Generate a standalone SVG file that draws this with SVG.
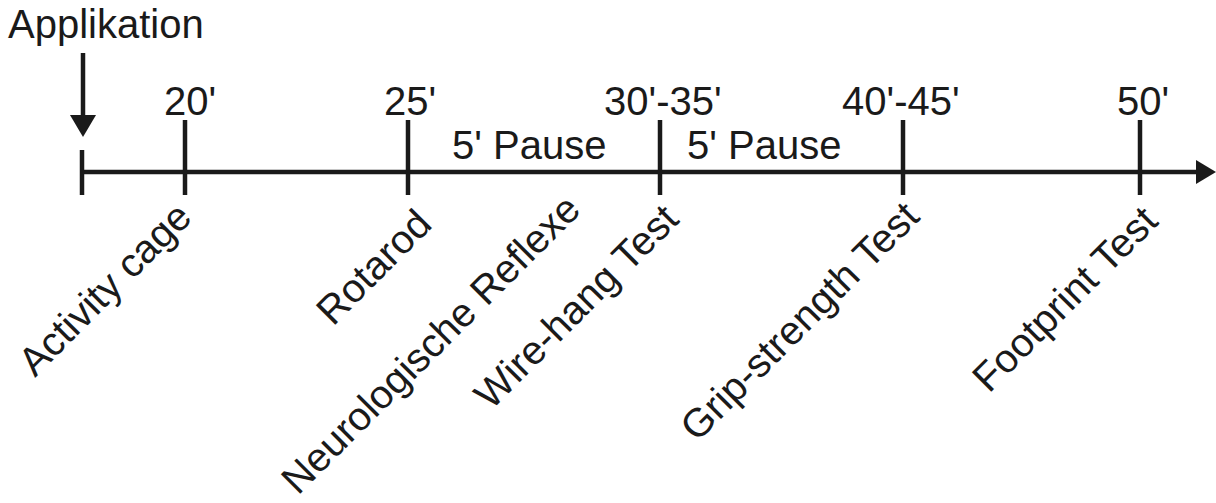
<svg xmlns="http://www.w3.org/2000/svg" width="1216" height="503" viewBox="0 0 1216 503">
  <style>
    text { font-family: "Liberation Sans", Arial, sans-serif; font-size: 40px; fill: #1a1a1a; }
    .ax { stroke: #1a1a1a; stroke-width: 4.5; fill: none; }
    .head { fill: #1a1a1a; }
  </style>
  <rect width="1216" height="503" fill="#ffffff"/>

  <!-- time axis, ticks and arrows -->
  <g id="connectors">
    <line class="ax" x1="82" y1="172" x2="1200" y2="172"/>
    <polygon class="head" points="1196,160 1216,172 1196,184"/>
    <line class="ax" x1="82" y1="150" x2="82" y2="195"/>
    <line class="ax" x1="185" y1="120" x2="185" y2="195"/>
    <line class="ax" x1="408" y1="120" x2="408" y2="195"/>
    <line class="ax" x1="660" y1="120" x2="660" y2="195"/>
    <line class="ax" x1="903" y1="120" x2="903" y2="195"/>
    <line class="ax" x1="1140" y1="120" x2="1140" y2="195"/>
    <line class="ax" x1="83" y1="53" x2="83" y2="118"/>
    <polygon class="head" points="70,115 96,115 83,137"/>
  </g>

  <g id="applikation"><text x="8" y="38">Applikation</text></g>

  <!-- time marks -->
  <g id="t20"><text x="164" y="115">20'</text></g>
  <g id="t25"><text x="384" y="115">25'</text></g>
  <g id="t30"><text x="604" y="115">30'-35'</text></g>
  <g id="t40"><text x="842" y="115">40'-45'</text></g>
  <g id="t50"><text x="1117" y="115">50'</text></g>

  <g id="pause1"><text x="452" y="159">5' Pause</text></g>
  <g id="pause2"><text x="687" y="159">5' Pause</text></g>

  <!-- tests, slanted below the axis -->
  <g id="activity"><text transform="translate(35,378) rotate(-45)">Activity cage</text></g>
  <g id="rotarod"><text transform="translate(333,327) rotate(-45)">Rotarod</text></g>
  <g id="reflexe"><text transform="translate(298,496) rotate(-45)">Neurologische Reflexe</text></g>
  <g id="wirehang"><text transform="translate(491,411) rotate(-45)">Wire-hang Test</text></g>
  <g id="grip"><text transform="translate(697,443) rotate(-45)">Grip-strength Test</text></g>
  <g id="footprint"><text transform="translate(989,394) rotate(-45)">Footprint Test</text></g>
</svg>
